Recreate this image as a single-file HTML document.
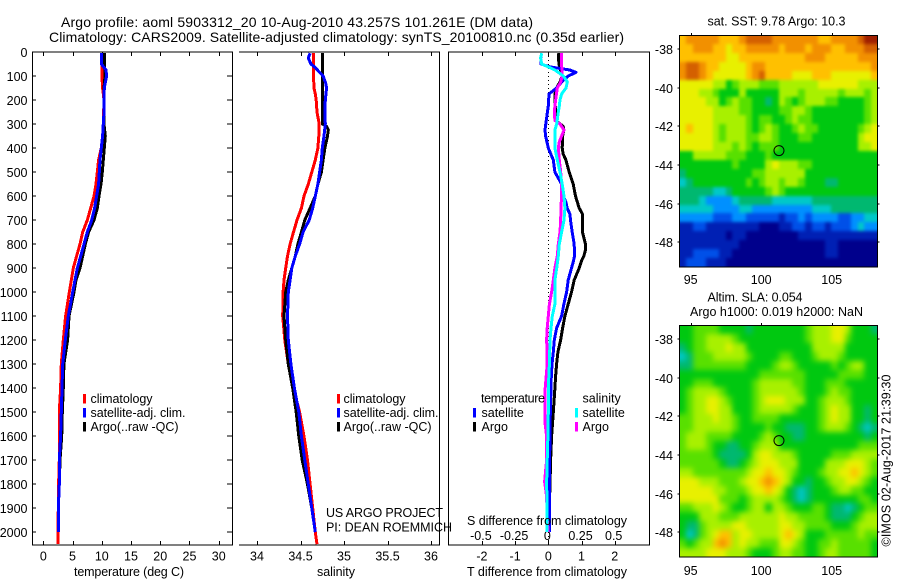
<!DOCTYPE html>
<html>
<head>
<meta charset="utf-8">
<title>Argo profile</title>
<style>
html,body{margin:0;padding:0;background:#fff;}
svg{display:block;}
text{font-family:"Liberation Sans",sans-serif;fill:#000;font-size:12.5px;}
.ttl{font-size:14px;}
</style>
</head>
<body>
<svg id="fig" xmlns="http://www.w3.org/2000/svg" width="900" height="580" viewBox="0 0 900 580">
<defs>
<filter id="blurSst" filterUnits="userSpaceOnUse" x="660" y="15" width="240" height="275" color-interpolation-filters="sRGB"><feGaussianBlur stdDeviation="1.6"/></filter>
<filter id="blurSla" filterUnits="userSpaceOnUse" x="660" y="305" width="240" height="275" color-interpolation-filters="sRGB"><feGaussianBlur stdDeviation="3"/></filter>
<clipPath id="clipSst"><rect x="679.5" y="35" width="198" height="232"/></clipPath>
<clipPath id="clipSla"><rect x="679.5" y="325" width="198" height="232"/></clipPath>
</defs>
<rect x="0" y="0" width="900" height="580" fill="#fff"/>
<text class="ttl" x="61" y="27" textLength="472">Argo profile: aoml 5903312_20 10-Aug-2010 43.257S 101.261E (DM data)</text>
<text class="ttl" x="49" y="42" textLength="575">Climatology: CARS2009. Satellite-adjusted climatology: synTS_20100810.nc (0.35d earlier)</text>
<g id="plots"></g>
<g id="maps"></g>

<text x="74" y="576" textLength="110">temperature (deg C)</text>
<text x="317" y="576" textLength="38">salinity</text>
<text x="467" y="576" textLength="160">T difference from climatology</text>
<text x="467" y="525" textLength="160">S difference from climatology</text>

<rect x="83" y="394" width="3" height="9.5" fill="#f00"/>
<text x="90.5" y="403" textLength="62">climatology</text>
<rect x="83" y="408" width="3" height="9.5" fill="#00f"/>
<text x="90.5" y="417" textLength="95">satellite-adj. clim.</text>
<rect x="83" y="422" width="3" height="9.5" fill="#000"/>
<text x="90.5" y="431" textLength="88">Argo(..raw -QC)</text>

<rect x="337" y="394" width="3" height="9.5" fill="#f00"/>
<text x="343.5" y="403" textLength="62">climatology</text>
<rect x="337" y="408" width="3" height="9.5" fill="#00f"/>
<text x="343.5" y="417" textLength="95">satellite-adj. clim.</text>
<rect x="337" y="422" width="3" height="9.5" fill="#000"/>
<text x="343.5" y="431" textLength="88">Argo(..raw -QC)</text>

<text x="326" y="517" textLength="117">US ARGO PROJECT</text>
<text x="326" y="531.5" textLength="126">PI: DEAN ROEMMICH</text>

<text x="481" y="402.5" textLength="64">temperature</text>
<rect x="473" y="408" width="3" height="9.5" fill="#00f"/>
<text x="481.5" y="417">satellite</text>
<rect x="473" y="422" width="3" height="9.5" fill="#000"/>
<text x="481.5" y="431">Argo</text>
<text x="582.5" y="402.5">salinity</text>
<rect x="575" y="408" width="3" height="9.5" fill="#0ff"/>
<text x="582.5" y="417">satellite</text>
<rect x="575" y="422" width="3" height="9.5" fill="#f0f"/>
<text x="582.5" y="431">Argo</text>

<text x="707.5" y="25.5" font-size="12" textLength="138">sat. SST: 9.78 Argo: 10.3</text>
<text x="707.5" y="301.5" textLength="95">Altim. SLA: 0.054</text>
<text x="690" y="316" textLength="173">Argo h1000: 0.019 h2000: NaN</text>
<text transform="translate(890.5,546.5) rotate(-90)" textLength="172">©IMOS 02-Aug-2017 21:39:30</text>
</svg>
<script>
// ---------- profile data (depth in dbar) ----------
const depthTicks = [0,100,200,300,400,500,600,700,800,900,1000,1100,1200,1300,1400,1500,1600,1700,1800,1900,2000];
const tempTicks = [0,5,10,15,20,25,30];
const salTicks = [34,34.5,35,35.5,36];
const salTickLabels = ['34','34.5','35','35.5','36'];
const tDiffTicks = [-2,-1,0,1,2];
const sDiffTicks = [-0.5,-0.25,0,0.25,0.5];
const lonTicks = [95,100,105];
const latTicks = [-38,-40,-42,-44,-46,-48];

const climTempDepth = [5,100,150,200,300,350,400,450,500,550,600,650,700,750,800,850,900,950,1000,1100,1200,1300,1400,1500,1600,1700,1800,1900,2000,2050];
const climTemp = [10.03,10.03,10.15,10.38,10.26,10.15,9.92,9.46,9.24,9.01,8.67,8.1,7.53,6.73,6.27,5.7,5.13,4.79,4.45,3.82,3.42,3.08,2.96,2.74,2.74,2.74,2.62,2.57,2.51,2.51];
const profTempDepth = [5,50,75,100,150,200,250,300,350,400,450,500,550,600,650,700,750,800,850,900,950,1000,1100,1200,1300,1400,1500,1600,1700,1800,1900,2000];
const argoTemp = [10.43,10.43,10.55,10.55,10.38,10.38,10.38,10.38,10.6,10.43,10.26,10.09,9.86,9.52,9.24,8.67,7.75,7.18,6.73,6.27,5.59,5.25,4.39,4.16,3.53,3.42,3.25,3.14,2.85,2.74,2.57,2.57];
const satTemp = [9.92,9.92,10.72,10.83,10.43,10.38,10.38,10.26,10.15,9.92,9.69,9.58,9.46,9.12,8.78,8.27,7.53,6.96,6.39,5.82,5.42,5.02,4.28,3.76,3.31,3.19,3.08,2.96,2.74,2.74,2.57,2.57];

const climSalDepth = [5,100,150,175,200,250,300,350,400,450,500,550,600,650,700,750,800,850,900,950,1000,1100,1200,1300,1400,1500,1600,1700,1800,1900,2000,2050];
const climSal = [34.65,34.65,34.655,34.67,34.68,34.69,34.715,34.71,34.70,34.67,34.63,34.59,34.54,34.51,34.46,34.42,34.38,34.35,34.33,34.31,34.30,34.295,34.32,34.36,34.42,34.49,34.54,34.58,34.61,34.64,34.67,34.69];
const argoSalDepth = [5,300,310,325,350,400,450,500,550,600,650,700,750,800,850,900,950,1000,1100,1200,1300,1400,1500,1600,1700,1800,1900,2000];
const argoSal = [34.75,34.75,34.80,34.82,34.81,34.78,34.76,34.74,34.70,34.67,34.61,34.55,34.51,34.47,34.44,34.40,34.36,34.33,34.31,34.33,34.36,34.41,34.45,34.48,34.52,34.58,34.63,34.67];
const satSalDepth = [5,25,50,65,85,100,130,150,200,250,300,350,400,450,500,550,600,650,700,750,800,850,900,950,1000,1100,1200,1300,1400,1500,1600,1700,1800,1900,2000];
const satSal = [34.61,34.59,34.62,34.67,34.72,34.76,34.79,34.80,34.785,34.78,34.785,34.77,34.75,34.74,34.72,34.70,34.67,34.64,34.60,34.53,34.49,34.44,34.40,34.38,34.36,34.35,34.36,34.39,34.43,34.48,34.51,34.55,34.59,34.63,34.67];

const tDiffArgoDepth = [5,50,75,100,125,150,175,200,250,290,310,325,350,400,425,450,500,550,600,650,675,700,750,800,825,850,870,900,950,1000,1050,1100,1150,1200,1250,1300,1350,1400,1500,1600,1700,1800,1900,2000];
const tDiffArgo = [.30,.32,.37,.42,.35,.25,.20,.20,.22,.27,.45,.47,.43,.42,.45,.53,.63,.75,.82,.93,1.03,1.03,1.03,1.12,1.12,1.07,1.0,.93,.78,.70,.60,.50,.43,.37,.29,.25,.22,.20,.15,.10,.07,.05,.03,.03];
const tDiffSatDepth = [5,25,50,62,75,85,100,125,150,175,225,275,325,350,400,450,500,525,550,600,625,650,675,700,750,800,850,875,900,950,1000,1050,1100,1150,1200,1250,1300,1350,1400,1500,1600,1700,1800,1900,2000];
const tDiffSat = [-.20,-.23,-.22,.05,.65,.83,.60,.40,.25,.02,0,-.05,-.10,-.08,0,.15,.20,.30,.40,.45,.53,.57,.65,.67,.72,.78,.79,.75,.70,.60,.55,.47,.40,.25,.18,.15,.11,.09,.08,.06,.05,.04,.03,.03,.03];
const sDiffArgoDepth = [5,50,100,125,150,200,250,285,300,325,350,375,400,450,500,550,600,650,700,750,800,850,900,950,1000,1050,1100,1150,1200,1250,1300,1400,1450,1550,1600,1700,1790,1850,1950,2000];
const sDiffArgo = [.10,.10,.105,.093,.068,.055,.045,.05,.088,.118,.10,.083,.075,.083,.093,.10,.10,.095,.093,.088,.075,.068,.05,.038,.025,.008,0,-.008,-.013,-.008,-.008,-.023,-.023,-.023,-.013,-.013,-.028,-.013,-.008,0];
const sDiffSatDepth = [5,25,50,62,75,100,125,150,175,200,225,250,300,325,350,400,450,500,550,600,650,700,750,800,850,900,950,1000,1050,1100,1150,1200,1300,1400,1500,1600,1700,1800,1900,2000];
const sDiffSat = [-.05,-.058,-.05,0,.05,.113,.143,.133,.10,.088,.083,.075,.063,.05,.05,.05,.068,.088,.105,.118,.125,.118,.10,.083,.075,.063,.05,.05,.05,.03,.02,.013,.008,0,0,-.003,-.008,-.013,-.008,-.008];

// ---------- map data (colour class per grid cell, north to south) ----------
const sstGrid = [
[10,11,11,11,11,11,10,10,10,11,12,12,12,12,11,11,11,11,11,11,11,10,10,11,11,11,11,12,13,13],
[10,10,11,11,11,10,10,9,10,10,11,11,11,11,11,10,11,11,11,10,11,11,11,10,10,11,11,11,12,12],
[10,10,10,10,10,10,10,9,9,10,10,10,10,10,10,10,10,10,10,11,11,11,10,10,10,10,10,11,11,11],
[11,12,12,11,10,10,9,9,9,9,10,11,11,10,10,10,10,10,10,10,10,10,10,10,10,10,10,10,10,11],
[11,12,12,11,10,9,9,9,9,9,10,11,12,10,10,10,10,9,9,9,10,10,10,9,9,9,9,9,9,10],
[9,9,9,9,9,8,8,6,7,8,8,8,7,7,7,8,8,8,8,8,8,9,9,9,9,9,9,8,8,8],
[9,9,9,8,8,7,6,6,6,8,6,6,6,6,6,8,8,8,7,8,8,8,8,8,7,8,8,8,7,8],
[9,9,9,9,8,8,6,7,8,7,7,6,6,5,6,8,7,6,7,8,8,8,7,7,6,6,6,6,7,8],
[9,9,9,9,9,8,8,8,8,7,7,6,6,6,6,7,7,8,8,7,6,6,6,6,6,6,6,6,7,8],
[9,9,9,9,9,8,8,8,8,8,7,6,7,7,6,6,7,8,7,7,6,6,6,6,6,6,6,6,7,8],
[9,10,9,9,9,8,7,8,8,8,7,6,7,8,7,6,6,7,8,7,7,6,6,6,6,6,6,7,8,9],
[9,9,9,9,9,8,7,8,8,8,7,7,8,8,7,6,6,6,7,7,6,6,6,6,6,6,6,8,9,9],
[9,9,9,9,9,8,8,8,7,8,7,6,7,7,7,6,6,6,6,6,6,6,6,6,6,6,6,8,8,9],
[6,6,8,8,8,8,8,7,7,7,6,6,6,7,6,6,6,6,6,6,6,6,6,6,6,6,6,6,6,6],
[6,6,6,6,6,6,6,6,7,6,6,6,6,8,9,8,8,8,7,7,6,6,6,6,6,6,6,6,6,6],
[5,6,6,6,6,6,6,6,6,6,6,7,7,8,8,8,8,8,8,6,6,6,6,6,6,6,6,6,6,6],
[4,5,6,6,6,6,6,6,6,6,7,6,7,8,8,7,8,8,7,6,6,6,5,5,6,6,6,6,6,6],
[5,5,5,5,5,4,4,5,6,6,6,6,6,7,8,7,6,6,6,6,6,6,6,6,6,6,6,6,6,6],
[5,5,5,4,3,3,3,3,4,5,5,5,5,5,4,4,4,4,4,4,5,5,5,5,5,5,5,5,5,5],
[4,4,4,4,4,3,3,3,3,4,4,3,3,3,3,3,3,3,3,3,4,4,4,5,5,5,5,5,5,5],
[3,3,3,3,3,2,2,2,3,3,2,2,2,2,2,1,2,2,3,2,3,3,3,3,2,2,3,3,4,4],
[1,1,2,2,1,1,1,1,1,1,1,1,0,0,0,1,1,2,2,1,2,2,1,2,2,2,3,4,3,3],
[1,1,1,1,1,1,1,0,1,1,0,0,0,0,0,0,0,0,1,1,1,1,1,1,1,1,1,1,1,1],
[1,1,1,1,1,1,1,1,1,0,0,0,0,0,0,0,0,0,0,0,0,0,1,1,0,0,0,0,0,0],
[1,1,2,2,2,2,1,1,0,0,0,0,0,0,0,0,0,0,0,0,0,0,1,1,0,0,0,0,0,0],
[1,2,2,2,1,1,1,0,0,0,0,0,0,0,0,0,0,0,0,0,0,0,0,0,0,0,0,0,0,0]
];
const slaGrid = [
[6,6,7,7,7,7,6,6,6,6,5,6,6,6,6,6,6,6,6,7,8,8,8,9,9,8,6,6,6,5],
[6,6,7,7,8,8,8,8,7,6,6,6,6,6,6,6,6,6,6,7,8,8,8,9,9,7,6,6,6,6],
[5,6,7,7,8,8,8,9,8,8,6,6,6,6,6,6,6,6,6,6,8,8,8,8,8,6,6,6,6,6],
[4,5,7,7,7,8,8,8,8,8,7,6,6,6,6,7,7,6,6,6,7,8,8,8,7,6,6,6,6,6],
[5,5,7,7,7,7,7,7,7,7,6,6,6,6,7,8,8,7,6,6,6,6,6,7,6,7,8,8,6,6],
[6,6,6,6,6,6,6,6,6,6,6,6,7,7,7,7,7,7,7,6,6,6,6,6,7,7,7,7,6,6],
[6,6,7,7,7,6,6,6,6,6,6,7,8,8,8,8,8,7,7,6,6,6,7,7,7,6,6,6,6,6],
[6,7,8,8,8,8,7,6,6,6,6,7,8,8,8,8,8,8,7,6,6,6,7,8,7,7,6,6,6,6],
[6,7,8,8,9,9,8,7,6,6,6,7,8,9,9,9,8,8,8,6,6,7,8,8,8,7,6,6,6,6],
[6,7,8,8,9,9,8,8,6,6,6,7,8,8,8,8,8,7,6,6,6,7,8,9,8,8,6,6,5,6],
[7,7,8,8,8,9,8,8,7,6,6,7,7,7,7,6,6,6,6,6,6,7,8,9,8,8,6,6,5,6],
[7,7,8,8,8,8,8,8,7,6,6,6,6,7,6,6,5,5,5,6,6,7,8,8,8,7,6,5,4,5],
[7,8,8,8,7,7,7,7,6,6,6,6,7,8,7,6,6,5,5,6,6,6,6,6,6,6,6,6,5,6],
[7,8,8,8,7,6,6,5,5,6,6,7,8,8,8,6,6,6,6,6,6,6,6,6,6,6,6,7,7,7],
[7,7,7,7,7,6,5,5,5,5,6,8,9,9,8,8,8,7,6,6,6,6,6,7,7,7,8,8,8,8],
[7,7,7,7,7,7,6,5,5,6,7,8,9,9,9,8,8,8,6,6,6,6,8,8,8,9,9,9,8,7],
[8,8,7,7,7,7,7,7,7,7,8,9,9,10,9,9,8,7,6,6,6,7,8,8,9,9,10,9,8,7],
[9,9,9,8,8,8,7,7,7,8,9,9,10,11,10,9,8,6,6,5,6,6,7,8,8,9,9,8,7,6],
[9,9,9,9,9,8,8,7,7,7,8,9,9,10,9,8,6,5,4,5,6,6,6,7,8,8,7,7,6,6],
[9,9,9,9,9,9,7,7,7,6,7,8,8,8,8,7,6,5,4,5,6,6,6,6,6,6,6,7,7,6],
[7,7,8,8,8,9,8,7,6,6,7,8,8,6,8,8,7,6,6,6,7,7,6,5,5,4,5,6,7,7],
[6,6,6,8,8,8,7,7,7,8,8,8,8,8,8,9,8,8,7,7,7,7,6,5,5,5,6,7,8,8],
[6,5,5,7,8,8,8,8,9,9,8,8,8,8,8,9,9,8,8,7,7,7,7,6,6,6,7,8,8,8],
[6,4,5,7,8,9,10,10,8,9,9,8,8,8,8,9,10,9,8,6,6,6,7,7,7,7,7,8,7,7],
[7,6,7,8,8,10,11,10,8,9,8,8,7,7,7,9,9,8,7,6,6,7,7,8,7,7,7,7,7,6],
[8,8,8,8,9,9,9,8,8,8,7,6,6,6,7,8,8,7,7,6,6,7,8,8,7,7,7,7,7,6]
];
const floatLon = 101.261;
const floatLat = -43.257;

const NS = 'http://www.w3.org/2000/svg';
const colormap = ['#00008c','#0020b4','#0050e8','#0090ff','#00c8c8','#00b870','#00c810','#58e000','#a8f000','#e8f000','#ffc000','#f29000','#d46000','#a02000'];

function mk(parent, tag, props, txt) {
  const e = document.createElementNS(NS, tag);
  for (const k in props) e.setAttribute(k, props[k]);
  if (txt !== undefined) e.textContent = txt;
  parent.appendChild(e);
  return e;
}

// axis functions
const PLOT_TOP = 52, PLOT_BOTTOM = 545;
const yDepth = d => 52 + d * 0.2401;
const xTemp = t => 43.3 + t * 5.847;
const xSal = s => 257 + (s - 34) * 87;
const xTDiff = t => 548.3 + t * 33.2;
const xSDiff = s => 548.3 + s * 132.8;
const xLon = l => 690.7 + (l - 95) * 14.1;
const yLat1 = l => 49 + (-38 - l) * 19.33;
const yLat2 = l => 339 + (-38 - l) * 19.33;

const plots = document.getElementById('plots');
const maps = document.getElementById('maps');

function hline(parent, x1, x2, y) {
  return mk(parent, 'line', {x1: x1, x2: x2, y1: y, y2: y, stroke: '#000', 'stroke-width': 1, 'shape-rendering': 'crispEdges'});
}
function vline(parent, x, y1, y2) {
  return mk(parent, 'line', {x1: x, x2: x, y1: y1, y2: y2, stroke: '#000', 'stroke-width': 1, 'shape-rendering': 'crispEdges'});
}
function profile(parent, xs, ds, fx, color) {
  const pts = ds.map((d, i) => fx(xs[i]).toFixed(1) + ',' + yDepth(d).toFixed(1)).join(' ');
  return mk(parent, 'polyline', {points: pts, fill: 'none', stroke: color, 'stroke-width': 3, 'stroke-linejoin': 'round', 'shape-rendering': 'crispEdges'});
}

// ---------- panel frames ----------
const frame1 = mk(plots, 'g', {});


const frame2 = mk(plots, 'g', {});


const frame3 = mk(plots, 'g', {});



hline(frame1, 32, 233, PLOT_TOP); hline(frame1, 32, 233, PLOT_BOTTOM);
vline(frame1, 32.5, PLOT_TOP, PLOT_BOTTOM); vline(frame1, 232.5, PLOT_TOP, PLOT_BOTTOM);
hline(frame2, 239, 440, PLOT_TOP); hline(frame2, 239, 440, PLOT_BOTTOM);
vline(frame2, 439.5, PLOT_TOP, PLOT_BOTTOM);
hline(frame3, 448, 650, PLOT_TOP); hline(frame3, 448, 650, PLOT_BOTTOM);
vline(frame3, 448.5, PLOT_TOP, PLOT_BOTTOM); vline(frame3, 649.5, PLOT_TOP, PLOT_BOTTOM);

depthTicks.forEach(d => {
  const y = Math.round(yDepth(d));
  hline(frame1, 32, 36, y);
  hline(frame1, 227, 232, y);
  const t = mk(frame1, 'text', {x: 27.5, y: y + 5, 'text-anchor': 'end'}, d);
  
  
});
tempTicks.forEach(v => {
  const x = Math.round(xTemp(v));
  vline(frame1, x + 0.5, PLOT_TOP, PLOT_TOP + 4);
  vline(frame1, x + 0.5, PLOT_BOTTOM - 4, PLOT_BOTTOM);
  const t = mk(frame1, 'text', {x: xTemp(v), y: 560.5, 'text-anchor': 'middle'}, v);
  
  
});
salTicks.forEach((v, i) => {
  const x = Math.round(xSal(v));
  vline(frame2, x + 0.5, PLOT_TOP, PLOT_TOP + 4);
  vline(frame2, x + 0.5, PLOT_BOTTOM - 4, PLOT_BOTTOM);
  const t = mk(frame2, 'text', {x: xSal(v), y: 560.5, 'text-anchor': 'middle'}, salTickLabels[i]);
  
  
});
tDiffTicks.forEach(v => {
  const x = Math.round(xTDiff(v));
  vline(frame3, x + 0.5, PLOT_TOP, PLOT_TOP + 4);
  vline(frame3, x + 0.5, PLOT_BOTTOM - 4, PLOT_BOTTOM);
  const t = mk(frame3, 'text', {x: xTDiff(v), y: 560.5, 'text-anchor': 'middle'}, v);
  
  
});
sDiffTicks.forEach(v => {
  const t = mk(frame3, 'text', {x: xSDiff(v) - 1, y: 540, 'text-anchor': 'middle'}, v);
  
  
});

// ---------- series ----------
let s;
s = profile(plots, climTemp, climTempDepth, xTemp, '#f00');


s = profile(plots, argoTemp, profTempDepth, xTemp, '#000');


s = profile(plots, satTemp, profTempDepth, xTemp, '#00f');



s = profile(plots, climSal, climSalDepth, xSal, '#f00');


s = profile(plots, argoSal, argoSalDepth, xSal, '#000');


s = profile(plots, satSal, satSalDepth, xSal, '#00f');



const zero = mk(plots, 'line', {x1: xTDiff(0), x2: xTDiff(0), y1: PLOT_TOP, y2: PLOT_BOTTOM, stroke: '#000', 'stroke-width': 1, 'stroke-dasharray': '1 3', 'shape-rendering': 'crispEdges'});



s = profile(plots, tDiffArgo, tDiffArgoDepth, xTDiff, '#000');


s = profile(plots, tDiffSat, tDiffSatDepth, xTDiff, '#00f');


s = profile(plots, sDiffArgo, sDiffArgoDepth, xSDiff, '#f0f');


s = profile(plots, sDiffSat, sDiffSatDepth, xSDiff, '#0ff');



// ---------- maps ----------
function drawMap(grid, top, yLat, lonLabelY, cellName, groupName, clipId, filterId) {
  const left = 679.5, right = 877.5, bottom = top + 232, pad = 16;
  const g = mk(maps, 'g', {});
  
  
  const clip = mk(g, 'g', {'clip-path': 'url(#' + clipId + ')'});
  
  
  const cells = mk(clip, 'g', {filter: 'url(#' + filterId + ')'});
  
  
  const rows = grid.length;
  grid.forEach((row, r) => {
    const cols = row.length;
    row.forEach((v, c) => {
      let x0 = Math.round(left + (right - left) * c / cols);
      let x1 = Math.round(left + (right - left) * (c + 1) / cols);
      let y0 = Math.round(top + (bottom - top) * r / rows);
      let y1 = Math.round(top + (bottom - top) * (r + 1) / rows);
      // edge cells run past the frame so the smoothing does not fade at the border
      if (c === 0) x0 -= pad;
      if (c === cols - 1) x1 += pad;
      if (r === 0) y0 -= pad;
      if (r === rows - 1) y1 += pad;
      const cell = mk(cells, 'rect', {x: x0, y: y0, width: x1 - x0, height: y1 - y0, fill: colormap[Math.max(0, Math.min(colormap.length - 1, Math.round(v)))], 'shape-rendering': 'crispEdges'});
      
      
    });
  });
  const box = mk(g, 'rect', {x: left, y: top + 0.5, width: right - left, height: bottom - top - 0.5, fill: 'none', stroke: '#000', 'stroke-width': 1, 'shape-rendering': 'crispEdges'});
  
  
  lonTicks.forEach(l => {
    const x = Math.round(xLon(l)) + 0.5;
    vline(g, x, top - 2, top);
    const t = mk(g, 'text', {x: xLon(l), y: lonLabelY, 'text-anchor': 'middle'}, l);
    
    
  });
  latTicks.forEach(l => {
    const y = Math.round(yLat(l));
    hline(g, left - 2, left, y);
    hline(g, right, right + 2, y);
    const t = mk(g, 'text', {x: 673, y: y + 5, 'text-anchor': 'end'}, l);
    
    
  });
  const m = mk(g, 'circle', {cx: xLon(floatLon), cy: yLat(floatLat), r: 5, fill: 'none', stroke: '#000', 'stroke-width': 1});
  
  
}
drawMap(sstGrid, 35, yLat1, 284, 'sst-map-cell', 'sst-map', 'clipSst', 'blurSst');
drawMap(slaGrid, 325, yLat2, 575, 'sla-map-cell', 'sla-map', 'clipSla', 'blurSla');
</script>
</body>
</html>
